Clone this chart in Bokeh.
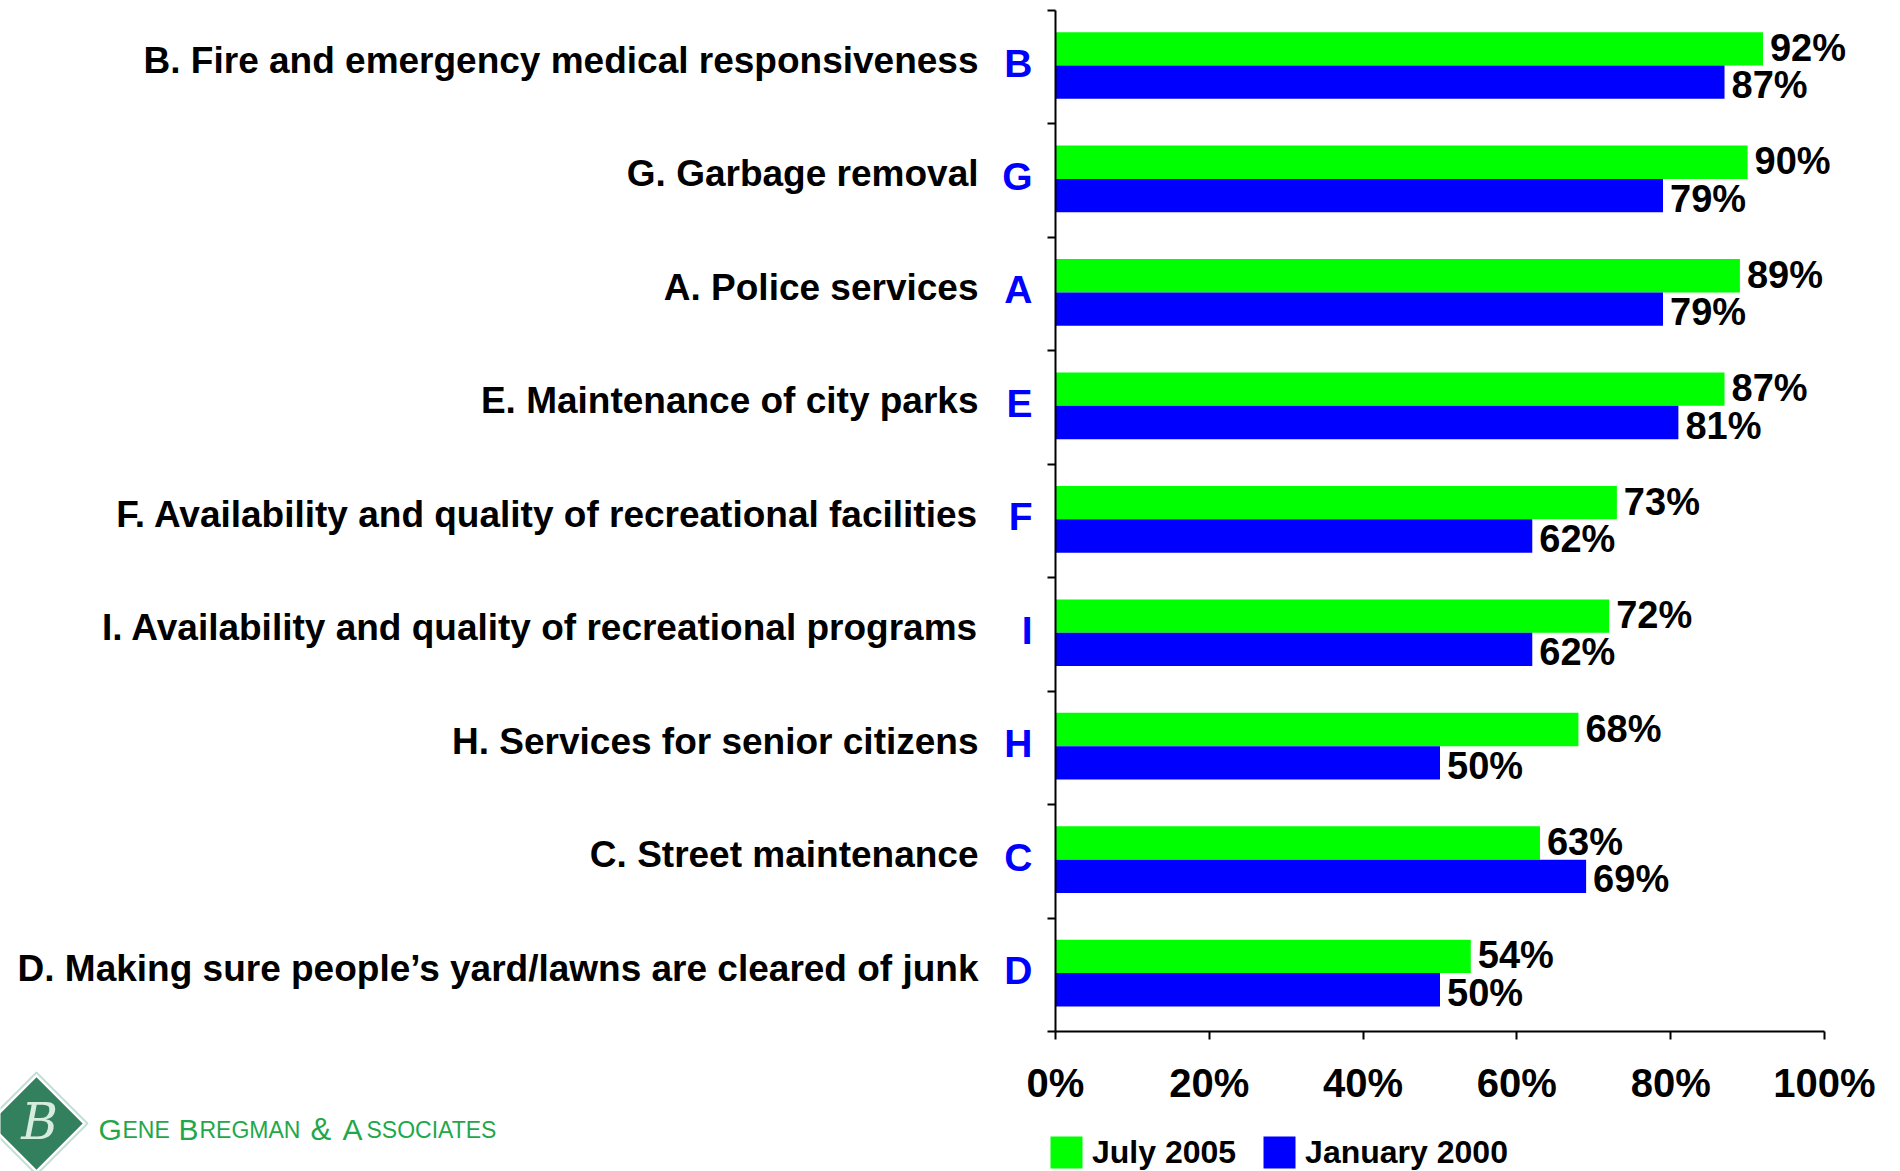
from bokeh.plotting import figure
from bokeh.models import (Range1d, LinearAxis, FixedTicker,
                          Legend, LegendItem, Label, PolyAnnotation, ColumnDataSource)
from bokeh.embed import file_html
from bokeh.resources import INLINE
from bokeh.core.properties import value

# ---- data ----
categories = [
    "B. Fire and emergency medical responsiveness",
    "G. Garbage removal",
    "A. Police services",
    "E. Maintenance of city parks",
    "F. Availability and quality of recreational facilities",
    "I. Availability and quality of recreational programs",
    "H. Services for senior citizens",
    "C. Street maintenance",
    "D. Making sure people\u2019s yard/lawns are cleared of junk",
]
letters = ["B", "G", "A", "E", "F", "I", "H", "C", "D"]
july_2005 = [92, 90, 89, 87, 73, 72, 68, 63, 54]
january_2000 = [87, 79, 79, 81, 62, 62, 50, 69, 50]
series_names = ["July 2005", "January 2000"]
x_ticks = [0, 20, 40, 60, 80, 100]
x_tick_labels = ["0%", "20%", "40%", "60%", "80%", "100%"]
company_pieces = ["G", "ENE", "B", "REGMAN", "&", "A", "SSOCIATES"]

# ---- layout / style constants ----
W, H = 1900, 1171
FONT = "Liberation Sans"
GREEN = "#00ff00"
BLUE = "#0000ff"
N = len(categories)
X0_PX, X100_PX = 1055, 1824        # pixel of 0% and 100%
YTOP_PX, YBOT_PX = 10, 1031        # pixel of top and bottom of category axis
PPU_X = (X100_PX - X0_PX) / 100.0
PPU_Y = (YBOT_PX - YTOP_PX) / N
OFF = 0.147
BAR_H = 0.294
PAIR_SHIFT = 0.015
LABEL_SHIFT = 0.059
LETTER_SHIFT = 0.037


def px2x(px):
    return (px - X0_PX) / PPU_X


def px2y(py):
    return (YBOT_PX - py) / PPU_Y


centers = [N - i - 0.5 for i in range(N)]
label_ticks = [c + LABEL_SHIFT for c in centers]
letter_ticks = [c + LETTER_SHIFT for c in centers]

src = ColumnDataSource(dict(
    cat=categories,
    yg=[c + PAIR_SHIFT + OFF for c in centers],
    yb=[c + PAIR_SHIFT - OFF for c in centers],
    july=july_2005,
    jan=january_2000,
    july_lbl=[f"{v}%" for v in july_2005],
    jan_lbl=[f"{v}%" for v in january_2000],
))

p = figure(width=W, height=H,
           x_range=Range1d(px2x(0), px2x(W)),
           y_range=Range1d(px2y(H), px2y(0)),
           output_backend="svg", toolbar_location=None,
           x_axis_location=None, y_axis_location=None,
           min_border_left=0, min_border_right=0,
           min_border_top=0, min_border_bottom=0)
p.outline_line_color = None
p.grid.visible = False
p.background_fill_color = "white"
p.border_fill_color = "white"

# ---- axes (placed at fixed data locations) ----
tick_axis = LinearAxis(fixed_location=0, bounds=(0, N),
                       ticker=FixedTicker(ticks=list(range(N + 1))),
                       major_label_overrides={i: "" for i in range(N + 1)},
                       major_tick_out=8, major_tick_in=0,
                       minor_tick_line_color=None,
                       axis_line_width=2, major_tick_line_width=2,
                       major_label_standoff=0, major_label_text_font_size="1px")
p.add_layout(tick_axis, "left")

letter_axis = LinearAxis(fixed_location=0, bounds=(0, N),
                         ticker=FixedTicker(ticks=letter_ticks),
                         major_label_overrides=dict(zip(letter_ticks, letters)),
                         axis_line_color=None, major_tick_line_color=None,
                         major_tick_out=0, major_tick_in=0,
                         minor_tick_line_color=None,
                         major_label_standoff=23,
                         major_label_text_color=BLUE,
                         major_label_text_font=FONT,
                         major_label_text_font_style="bold",
                         major_label_text_font_size="39px")
p.add_layout(letter_axis, "left")

label_axis = LinearAxis(fixed_location=0, bounds=(0, N),
                        ticker=FixedTicker(ticks=label_ticks),
                        major_label_overrides=dict(zip(label_ticks, categories)),
                        axis_line_color=None, major_tick_line_color=None,
                        major_tick_out=0, major_tick_in=0,
                        minor_tick_line_color=None,
                        major_label_standoff=77,
                        major_label_text_color="black",
                        major_label_text_font=FONT,
                        major_label_text_font_style="bold",
                        major_label_text_font_size="37px")
p.add_layout(label_axis, "left")

xaxis = LinearAxis(fixed_location=0, bounds=(0, 100),
                   ticker=FixedTicker(ticks=x_ticks),
                   major_label_overrides=dict(zip(x_ticks, x_tick_labels)),
                   major_tick_out=8, major_tick_in=0, minor_tick_line_color=None,
                   axis_line_width=2, major_tick_line_width=2,
                   major_label_standoff=21,
                   major_label_text_font=FONT, major_label_text_font_style="bold",
                   major_label_text_font_size="40px", major_label_text_color="black")
p.add_layout(xaxis, "below")

# ---- bars and value labels ----
g = p.hbar(y="yg", left=0, right="july", height=BAR_H,
           source=src, fill_color=GREEN, line_color=None)
b = p.hbar(y="yb", left=0, right="jan", height=BAR_H,
           source=src, fill_color=BLUE, line_color=None)

p.text(x="july", y="yg", text="july_lbl", source=src,
       x_offset=7, y_offset=-1, text_baseline="middle", text_align="left",
       text_font=value(FONT), text_font_style="bold", text_font_size="38px",
       text_color="black")
p.text(x="jan", y="yb", text="jan_lbl", source=src,
       x_offset=7, y_offset=3, text_baseline="middle", text_align="left",
       text_font=value(FONT), text_font_style="bold", text_font_size="38px",
       text_color="black")

legend = Legend(items=[LegendItem(label=series_names[0], renderers=[g]),
                       LegendItem(label=series_names[1], renderers=[b])],
                orientation="horizontal", location=(1046, -1),
                glyph_width=40, glyph_height=40, label_standoff=6, spacing=23,
                padding=0, margin=0, border_line_color=None,
                background_fill_alpha=0,
                label_text_font=FONT, label_text_font_style="bold",
                label_text_font_size="32px", label_text_color="black")
p.add_layout(legend)

# ---- logo (decoration) ----
lcx, lcy = 36, 1123
r_out, r_in = 51, 46
p.add_layout(PolyAnnotation(
    xs=[px2x(lcx - r_in), px2x(lcx), px2x(lcx + r_in), px2x(lcx)],
    ys=[px2y(lcy), px2y(lcy - r_in), px2y(lcy), px2y(lcy + r_in)],
    fill_color="#33805f", fill_alpha=1, line_color="#2f7a62", line_width=1))
p.add_layout(PolyAnnotation(
    xs=[px2x(lcx - r_out), px2x(lcx), px2x(lcx + r_out), px2x(lcx)],
    ys=[px2y(lcy), px2y(lcy - r_out), px2y(lcy), px2y(lcy + r_out)],
    fill_alpha=0, line_color="#2a9a80", line_width=2))
p.add_layout(Label(x=px2x(lcx + 3), y=px2y(lcy - 2), text="B",
                   text_font="DejaVu Serif", text_font_style="italic", text_font_size="50px",
                   text_color="#d5ecdf", text_align="center", text_baseline="middle"))

piece_x = [98, 122, 178, 199, 310, 342, 366]
piece_size = ["30px", "23px", "30px", "23px", "31px", "30px", "23px"]
for txt, px, sz in zip(company_pieces, piece_x, piece_size):
    p.add_layout(Label(x=px2x(px), y=px2y(1129), text=txt, text_font=FONT,
                       text_font_size=sz, text_color="#1fa84a",
                       text_baseline="alphabetic", text_align="left"))

open("out.html", "w").write(file_html(p, INLINE))
